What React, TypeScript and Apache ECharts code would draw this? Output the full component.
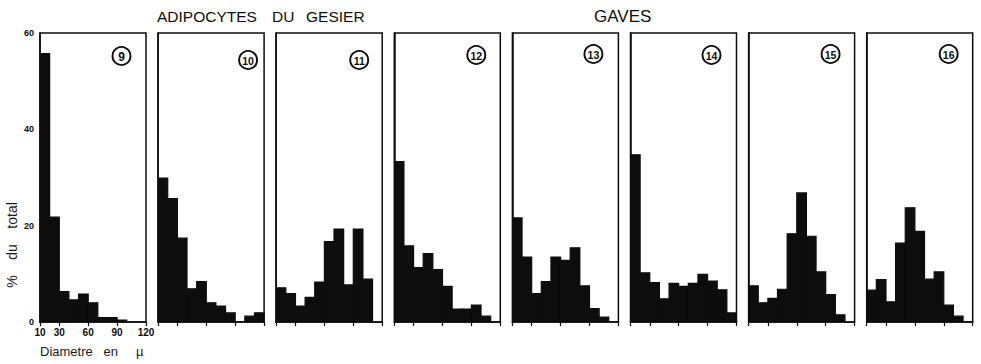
import React, { useEffect, useRef } from "react";
import * as echarts from "echarts";

// Bin edges (diameter in µ)
const BIN_EDGES = [10, 20, 30, 40, 50, 60, 70, 80, 90, 100, 110, 120];
const X_TICKS = [10, 30, 60, 90, 120];
const Y_TICKS_MAX = 60;

const PANEL_LABELS = ["9", "10", "11", "12", "13", "14", "15", "16"];

// % du total per bin (10-20, 20-30, ... 110-120)
const P9 = [55.7, 21.8, 6.3, 4.6, 5.8, 4.0, 0.9, 0.9, 0.4, 0, 0];
const P10 = [29.9, 25.6, 17.4, 6.9, 8.4, 4.0, 3.3, 1.9, 0, 1.2, 1.9];
const P11 = [7.1, 5.9, 3.3, 5.1, 8.3, 16.7, 19.3, 7.7, 19.3, 8.9, 0];
const P12 = [33.3, 15.8, 11.3, 14.2, 10.9, 7.4, 2.7, 2.7, 3.5, 1.2, 0];
const P13 = [21.6, 13.5, 5.9, 8.4, 13.5, 12.8, 15.4, 7.5, 2.8, 1.0, 0];
const P14 = [34.7, 10.2, 8.2, 4.8, 8.0, 7.4, 8.0, 9.9, 8.5, 6.7, 1.9];
const P15 = [7.5, 4.0, 4.9, 6.8, 18.3, 26.8, 17.8, 10.4, 5.7, 1.5, 0];
const P16 = [6.6, 8.8, 4.2, 16.4, 23.7, 18.8, 8.9, 10.4, 3.5, 1.2, 0];

const PANELS = [P9, P10, P11, P12, P13, P14, P15, P16];

const INK = "#0d0d0d";
const FONT = "Liberation Sans";

export default function App() {
  const ref = useRef<HTMLDivElement>(null);

  useEffect(() => {
    if (!ref.current) return;
    const chart = echarts.init(ref.current, null, { renderer: "svg" });

    const gridLeft0 = 40;
    const gridStep = 118.1;
    const gridW = 106;
    const gridTop = 33;
    const gridH = 289;
    const badgeDx = [24.5, 16, 23, 24, 25, 25, 24, 24];
    const badgeDy = [23, 27, 27, 22, 21, 22, 21, 21];

    const grids: any[] = [];
    const xAxes: any[] = [];
    const yAxes: any[] = [];
    const series: any[] = [];
    const graphics: any[] = [];

    PANELS.forEach((vals, i) => {
      const left = gridLeft0 + i * gridStep;
      grids.push({
        left,
        top: gridTop,
        width: gridW,
        height: gridH,
        show: true,
        borderColor: INK,
        borderWidth: 1.5,
        backgroundColor: "transparent",
      });
      xAxes.push({
        type: "value",
        gridIndex: i,
        min: BIN_EDGES[0],
        max: BIN_EDGES[BIN_EDGES.length - 1],
        axisLine: { show: true, lineStyle: { color: INK, width: 1.5 } },
        axisTick: {
          show: true,
          customValues: X_TICKS,
          length: 4,
          lineStyle: { color: INK, width: 1.2 },
        },
        axisLabel: {
          show: i === 0,
          customValues: X_TICKS,
          fontFamily: FONT,
          fontWeight: "bold",
          fontSize: 10,
          color: INK,
          margin: 5,
        },
        splitLine: { show: false },
      });
      yAxes.push({
        type: "value",
        gridIndex: i,
        min: 0,
        max: Y_TICKS_MAX,
        interval: 20,
        axisLine: { show: true, lineStyle: { color: INK, width: 1.5 } },
        axisTick: { show: false },
        axisLabel: {
          show: i === 0,
          fontFamily: FONT,
          fontWeight: "bold",
          fontSize: 9,
          color: INK,
          margin: 6,
        },
        splitLine: { show: false },
      });
      const data = vals.map((v, k) => [BIN_EDGES[k], BIN_EDGES[k + 1], v]);
      series.push({
        type: "custom",
        xAxisIndex: i,
        yAxisIndex: i,
        encode: { x: [0, 1], y: 2 },
        clip: true,
        data,
        renderItem: (params: any, api: any) => {
          const s = api.coord([api.value(0), api.value(2)]);
          const e = api.coord([api.value(1), 0]);
          if (api.value(2) <= 0) return null;
          return {
            type: "rect",
            shape: { x: s[0], y: s[1], width: e[0] - s[0], height: e[1] - s[1] },
            style: { fill: INK, stroke: INK, lineWidth: 1.2 },
          };
        },
      });
      const cx = left + gridW - badgeDx[i];
      const cy = gridTop + badgeDy[i];
      graphics.push({
        type: "circle",
        shape: { cx, cy, r: 9 },
        style: { fill: "#fff", stroke: INK, lineWidth: 1.9 },
        z: 10,
      });
      graphics.push({
        type: "text",
        x: cx,
        y: cy + 0.5,
        style: {
          text: PANEL_LABELS[i],
          fill: INK,
          font: `bold ${PANEL_LABELS[i].length > 1 ? 10.5 : 12}px "${FONT}"`,
          align: "center",
          verticalAlign: "middle",
        },
        z: 11,
      });
    });

    const titleFont = `15.5px "${FONT}"`;
    graphics.push({
      type: "text",
      x: 157,
      y: 16,
      style: { text: "ADIPOCYTES", fill: INK, font: titleFont, verticalAlign: "middle" },
    });
    graphics.push({
      type: "text",
      x: 272,
      y: 16,
      style: { text: "DU", fill: INK, font: titleFont, verticalAlign: "middle" },
    });
    graphics.push({
      type: "text",
      x: 306,
      y: 16,
      style: { text: "GESIER", fill: INK, font: titleFont, verticalAlign: "middle" },
    });
    graphics.push({
      type: "text",
      x: 594,
      y: 16,
      style: { text: "GAVES", fill: INK, font: `17px "${FONT}"`, verticalAlign: "middle" },
    });
    graphics.push({
      type: "text",
      x: 40,
      y: 351,
      style: {
        text: "Diametre   en     µ",
        fill: "#1a1a1a",
        font: `13px "${FONT}"`,
        verticalAlign: "middle",
      },
    });
    graphics.push({
      type: "text",
      x: 12,
      y: 245,
      rotation: Math.PI / 2,
      style: {
        text: "%    du    total",
        fill: "#1a1a1a",
        font: `14px "${FONT}"`,
        align: "center",
        verticalAlign: "middle",
      },
    });

    chart.setOption({
      animation: false,
      backgroundColor: "#ffffff",
      grid: grids,
      xAxis: xAxes,
      yAxis: yAxes,
      series,
      graphic: graphics,
    });

    return () => chart.dispose();
  }, []);

  return (
    <div
      ref={ref}
      style={{ position: "fixed", left: 0, top: 0, width: 981, height: 364 }}
    />
  );
}
